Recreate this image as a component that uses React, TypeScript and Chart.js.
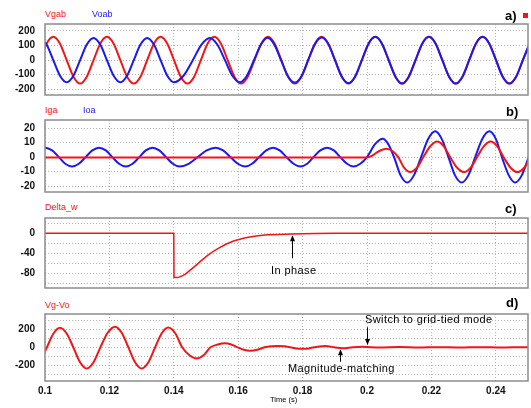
import React, { useEffect, useRef } from 'react';
import { Chart, registerables } from 'chart.js';

Chart.register(...registerables);

const FONT = '"Liberation Sans", Arial, Helvetica, sans-serif';
const RED = 'rgb(245,20,20)';
const BLUE = 'rgb(25,25,240)';
const GRID = '#b4b4b4';
const FRAME = '#8c8c8c';

// ---------- shared x axis ----------
const xTicks = [0.1, 0.12, 0.14, 0.16, 0.18, 0.2, 0.22, 0.24];
const xTickLabels = ['0.1', '0.12', '0.14', '0.16', '0.18', '0.2', '0.22', '0.24'];

// ---------- y ticks per panel ----------
const aYTicks = [-200, -100, 0, 100, 200];
const aYLabels = ['-200', '-100', '0', '100', '200'];
const bYTicks = [-20, -10, 0, 10, 20];
const bYLabels = ['-20', '-10', '0', '10', '20'];
const cYTicks = [-100, -80, -60, -40, -20, 0, 20];
const cYLabels = ['', '-80', '', '-40', '', '0', ''];
const dYTicks = [-300, -200, -100, 0, 100, 200, 300];
const dYLabels = ['', '-200', '', '0', '', '200', ''];

// ---------- panel a: Vgab (red), Voab (blue) ----------
const vgabT = [0.0984, 0.10048, 0.10257, 0.10465, 0.10673, 0.10882, 0.1109, 0.11298, 0.11507, 0.11715, 0.11923, 0.12132, 0.1234, 0.12548, 0.12757, 0.12965, 0.13173, 0.13382, 0.1359, 0.13798, 0.14007, 0.14215, 0.14423, 0.14632, 0.1484, 0.15048, 0.15257, 0.15465, 0.15673, 0.15882, 0.1609, 0.16298, 0.16507, 0.16715, 0.16923, 0.17132, 0.1734, 0.17548, 0.17757, 0.17965, 0.18173, 0.18382, 0.1859, 0.18798, 0.19007, 0.19215, 0.19423, 0.19632, 0.1984, 0.20048, 0.20257, 0.20465, 0.20673, 0.20882, 0.2109, 0.21298, 0.21507, 0.21715, 0.21923, 0.22132, 0.2234, 0.22548, 0.22757, 0.22965, 0.23173, 0.23382, 0.2359, 0.23798, 0.24007, 0.24215, 0.24423, 0.24632, 0.2484, 0.25048];
const vgabV = [0, 113, 160, 113, 0, -113, -160, -113, 0, 113, 160, 113, 0, -113, -160, -113, 0, 113, 160, 113, 0, -113, -160, -113, 0, 113, 160, 113, 0, -113, -160, -113, 0, 113, 160, 113, 0, -113, -160, -113, 0, 113, 160, 113, 0, -113, -160, -113, 0, 113, 160, 113, 0, -113, -160, -113, 0, 113, 160, 113, 0, -113, -160, -113, 0, 113, 160, 113, 0, -113, -160, -113, 0, 113];

const voabT = [0.0984, 0.10048, 0.10257, 0.10465, 0.10673, 0.10882, 0.1109, 0.11298, 0.11507, 0.11715, 0.11923, 0.12132, 0.1234, 0.12548, 0.12757, 0.12965, 0.13173, 0.13382, 0.1359, 0.13798, 0.14007,
  0.143, 0.1459, 0.1486, 0.1512, 0.1535, 0.1559, 0.1582, 0.1605, 0.1627, 0.1649, 0.1671, 0.1691, 0.1712, 0.1733, 0.1754, 0.1776,
  0.17965, 0.18173, 0.18382, 0.1859, 0.18798, 0.19007, 0.19215, 0.19423, 0.19632, 0.1984, 0.20048, 0.20257, 0.20465, 0.20673, 0.20882, 0.2109, 0.21298, 0.21507, 0.21715, 0.21923, 0.22132, 0.2234, 0.22548, 0.22757, 0.22965, 0.23173, 0.23382, 0.2359, 0.23798, 0.24007, 0.24215, 0.24423, 0.24632, 0.2484, 0.25048];
const voabV = [152, 107, 0, -107, -152, -107, 0, 107, 152, 107, 0, -107, -152, -107, 0, 107, 152, 107, 0, -107, -152,
  -107, 0, 107, 152, 107, 0, -107, -152, -107, 0, 107, 153, 108, 0, -108, -154,
  -110, 0, 110, 155, 111, 0, -112, -158, -112, 0, 113, 160, 113, 0, -113, -160, -113, 0, 113, 160, 113, 0, -113, -160, -113, 0, 113, 160, 113, 0, -113, -160, -113, 0, 113];

// ---------- panel b: Iga (red), Ioa (blue) ----------
const igaT = [0.1, 0.2, 0.2015, 0.2035, 0.206, 0.208, 0.2097, 0.2115, 0.2134, 0.2155, 0.2175, 0.2197, 0.2218, 0.2238, 0.2258, 0.228, 0.2302, 0.2322, 0.2342, 0.2363, 0.2384, 0.2404, 0.2424, 0.2446, 0.2467, 0.2488, 0.2509];
const igaV = [-0.3, -0.3, 0.8, 3.8, 5.7, 4, 0, -7.3, -10.3, -7.3, 0, 7.6, 10.8, 7.6, 0, -7.3, -10.3, -7.3, 0, 7.6, 10.8, 7.6, 0, -7.3, -10.3, -7.3, 0];

const ioaT = [0.098, 0.1001, 0.1022, 0.1043, 0.1063, 0.1084, 0.1105, 0.1126, 0.1147, 0.1168, 0.1189, 0.1209, 0.123, 0.1251, 0.1272, 0.1293, 0.1313, 0.1334, 0.1355, 0.1376, 0.1397, 0.1418, 0.1446, 0.1474, 0.1502, 0.153, 0.1553, 0.1576, 0.1599, 0.1622, 0.1643, 0.1665, 0.1687, 0.1708, 0.1729, 0.175, 0.1772, 0.1793, 0.1814, 0.1834, 0.1855, 0.1876, 0.1897, 0.1917, 0.1938, 0.1958, 0.1979, 0.2, 0.2025, 0.2049, 0.2066, 0.2084, 0.2104, 0.2125, 0.2146, 0.2168, 0.219, 0.2212, 0.2232, 0.2253, 0.2273, 0.2294, 0.2315, 0.2336, 0.2358, 0.238, 0.24, 0.2419, 0.244, 0.246, 0.2481, 0.2502, 0.2523];
const ioaV = [4.6, 6.5, 4.6, 0, -4.6, -6.5, -4.6, 0,
  4.6, 6.5, 4.6, 0, -4.6, -6.5, -4.6, 0,
  4.6, 6.5, 4.6, 0, -4.6, -6.5, -4.6, 0,
  4.6, 6.5, 4.6, 0, -4.6, -6.5, -4.6, 0,
  4.6, 6.5, 4.6, 0, -4.6, -6.5, -4.6, 0,
  4.6, 6.5, 4.6, 0, -4.6, -6.5, -4.6, 0,
  8.9, 12.6, 8.9, 0, -12.4, -17.5, -12.4, 0, 12.5, 17.7, 12.5, 0, -12.4, -17.5, -12.4, 0, 12.5, 17.7, 12.5, 0, -12.4, -17.5, -12.4, 0, 12.5];

// ---------- panel c: Delta_w ----------
const dwT = [0.1, 0.13999, 0.14006, 0.141, 0.1419, 0.14348, 0.14556, 0.14761, 0.15071, 0.15382, 0.15798, 0.16314, 0.16832, 0.17661, 0.18385, 0.19, 0.25];
const dwV = [0, 0, -88, -88.5, -87, -82, -71, -60, -43, -30, -17, -8, -3.4, -1.5, -0.4, 0, 0];

// ---------- panel d: Vg-Vo ----------
const vdT = [0.0985, 0.10058, 0.10262, 0.10466, 0.10673, 0.1088, 0.11088, 0.11295, 0.11508, 0.1172, 0.11947, 0.12174, 0.12382, 0.1259, 0.12797, 0.13003, 0.13212, 0.1342, 0.13625, 0.13829, 0.14045, 0.1426, 0.14485, 0.1471, 0.14925, 0.1514, 0.15365, 0.1559, 0.15785, 0.1598, 0.16175, 0.1637, 0.16595, 0.1682, 0.17035, 0.1725, 0.17435, 0.1762, 0.1781, 0.18, 0.18175, 0.1835, 0.18525, 0.187, 0.1884, 0.1898, 0.1925, 0.1955, 0.1985, 0.204, 0.21, 0.216, 0.222, 0.229, 0.235, 0.242, 0.248, 0.252];
const vdV = [-165, 0, 154, 218, 154, 0, -165, -234, -165, 0, 162, 229, 162, 0, -165, -234, -165, 0, 156, 220, 156, 0, -88, -124, -88, 0, 31, 44, 31, 0, -27, -38, -27, 0, 11, 15, 11, 0, -12, -17, -12, 0, 10, 14, 10, 0, -11, 0, 6, -3, 3, -3, 2, -3, 2, -2, 2, 0];

// ---------- annotation arrows (data coordinates) ----------
const cArrows = [{ t: 0.1768, from: -50, to: -4 }];
const dArrows = [
  { t: 0.2001, from: 222, to: 26 },
  { t: 0.1916, from: -160, to: -22 },
];

type Series = { t: number[]; v: number[]; color: string; width: number };
type Arrow = { t: number; from: number; to: number };

const framePlugin = {
  id: 'frame',
  afterDatasetsDraw(chart: any) {
    const { ctx, chartArea } = chart;
    ctx.save();
    ctx.strokeStyle = FRAME;
    ctx.lineWidth = 1.5;
    ctx.strokeRect(chartArea.left, chartArea.top, chartArea.right - chartArea.left, chartArea.bottom - chartArea.top);
    ctx.restore();
  },
};

const makeArrowPlugin = (arrows: Arrow[]) => ({
  id: 'arrows',
  afterDraw(chart: any) {
    const { ctx } = chart;
    const xs = chart.scales.x;
    const ys = chart.scales.y;
    ctx.save();
    ctx.strokeStyle = '#000';
    ctx.fillStyle = '#000';
    ctx.lineWidth = 1;
    arrows.forEach((a) => {
      const x = Math.round(xs.getPixelForValue(a.t)) + 0.5;
      const y1 = ys.getPixelForValue(a.from);
      const y2 = ys.getPixelForValue(a.to);
      const dir = y2 > y1 ? 1 : -1;
      ctx.beginPath();
      ctx.moveTo(x, y1);
      ctx.lineTo(x, y2 - dir * 5);
      ctx.stroke();
      ctx.beginPath();
      ctx.moveTo(x, y2);
      ctx.lineTo(x - 2.5, y2 - dir * 6);
      ctx.lineTo(x + 2.5, y2 - dir * 6);
      ctx.closePath();
      ctx.fill();
    });
    ctx.restore();
  },
});

type PanelProps = {
  top: number;
  plotHeight: number;
  xAxisHeight: number;
  yMin: number;
  yMax: number;
  yTicks: number[];
  yLabels: string[];
  series: Series[];
  showX: boolean;
  arrows?: Arrow[];
};

const PAD = 3;

function Panel(p: PanelProps) {
  const ref = useRef<HTMLCanvasElement>(null);
  const h = PAD + p.plotHeight + p.xAxisHeight;
  useEffect(() => {
    const tickFont = { family: FONT, size: 10, weight: 'bold' as const };
    const chart = new Chart(ref.current as HTMLCanvasElement, {
      type: 'line',
      data: {
        datasets: p.series.map((s) => ({
          data: s.t.map((x, i) => ({ x, y: s.v[i] })),
          borderColor: s.color,
          borderWidth: s.width,
          pointRadius: 0,
          fill: false,
          cubicInterpolationMode: 'monotone' as const,
        })),
      },
      options: {
        animation: false,
        responsive: false,
        events: [],
        layout: { autoPadding: false, padding: { top: PAD, right: 3, left: 0, bottom: 0 } },
        plugins: { legend: { display: false }, tooltip: { enabled: false } },
        scales: {
          x: {
            type: 'linear',
            min: 0.1,
            max: 0.25,
            bounds: 'data',
            afterBuildTicks: (s: any) => {
              s.ticks = xTicks.map((value) => ({ value }));
            },
            afterFit: (s: any) => {
              s.height = p.xAxisHeight;
              s.paddingLeft = 0;
              s.paddingRight = 0;
              s.paddingTop = 0;
              s.paddingBottom = 0;
            },
            grid: { color: GRID, lineWidth: 1, drawTicks: false },
            border: { display: false, dash: [1, 2] },
            ticks: {
              display: p.showX,
              autoSkip: false,
              maxRotation: 0,
              padding: 4,
              color: '#111',
              font: tickFont,
              callback: (v: any) => {
                const i = xTicks.indexOf(Number(v));
                return i < 0 ? '' : xTickLabels[i];
              },
            },
          },
          y: {
            type: 'linear',
            min: p.yMin,
            max: p.yMax,
            bounds: 'data',
            afterBuildTicks: (s: any) => {
              s.ticks = p.yTicks.map((value) => ({ value }));
            },
            afterFit: (s: any) => {
              s.width = 45;
              s.paddingLeft = 0;
              s.paddingRight = 0;
              s.paddingTop = 0;
              s.paddingBottom = 0;
            },
            grid: { color: GRID, lineWidth: 1, drawTicks: false },
            border: { display: false, dash: [1, 2] },
            ticks: {
              autoSkip: false,
              padding: 10,
              color: '#111',
              font: tickFont,
              callback: (v: any) => {
                const i = p.yTicks.indexOf(Number(v));
                return i < 0 ? '' : p.yLabels[i];
              },
            },
          },
        },
      } as any,
      plugins: [framePlugin, makeArrowPlugin(p.arrows || [])],
    });
    return () => chart.destroy();
  }, []);
  return (
    <canvas
      ref={ref}
      width={531}
      height={h}
      style={{ position: 'absolute', left: 0, top: p.top - PAD, width: 531, height: h }}
    />
  );
}

function Txt(props: { x: number; y: number; size: number; color?: string; bold?: boolean; ls?: number; children: React.ReactNode }) {
  return (
    <div
      style={{
        position: 'absolute',
        left: props.x,
        top: props.y,
        fontSize: props.size,
        lineHeight: 1,
        color: props.color || '#000',
        fontWeight: props.bold ? 'bold' : 'normal',
        letterSpacing: props.ls || 0,
        whiteSpace: 'nowrap',
        fontFamily: FONT,
      }}
    >
      {props.children}
    </div>
  );
}

export default function App() {
  return (
    <div style={{ position: 'fixed', left: 0, top: 0, width: 531, height: 408, background: '#fff', overflow: 'hidden' }}>
      <Panel
        top={24}
        plotHeight={71}
        xAxisHeight={3}
        yMin={-239}
        yMax={248}
        yTicks={aYTicks}
        yLabels={aYLabels}
        showX={false}
        series={[
          { t: voabT, v: voabV, color: BLUE, width: 2 },
          { t: vgabT, v: vgabV, color: RED, width: 2 },
        ]}
      />
      <Panel
        top={120}
        plotHeight={72}
        xAxisHeight={3}
        yMin={-24}
        yMax={25.5}
        yTicks={bYTicks}
        yLabels={bYLabels}
        showX={false}
        series={[
          { t: igaT, v: igaV, color: RED, width: 2 },
          { t: ioaT, v: ioaV, color: BLUE, width: 2 },
        ]}
      />
      <Panel
        top={218}
        plotHeight={70}
        xAxisHeight={3}
        yMin={-109.4}
        yMax={30.6}
        yTicks={cYTicks}
        yLabels={cYLabels}
        showX={false}
        series={[{ t: dwT, v: dwV, color: RED, width: 1.5 }]}
        arrows={cArrows}
      />
      <Panel
        top={314}
        plotHeight={67}
        xAxisHeight={27}
        yMin={-374}
        yMax={370}
        yTicks={dYTicks}
        yLabels={dYLabels}
        showX={true}
        series={[{ t: vdT, v: vdV, color: RED, width: 2 }]}
        arrows={dArrows}
      />

      <Txt x={45} y={9.7} size={9} color={RED}>Vgab</Txt>
      <Txt x={92} y={9.7} size={9} color={BLUE}>Voab</Txt>
      <Txt x={505} y={9} size={13} bold>a)</Txt>
      <div style={{ position: 'absolute', left: 523, top: 13, width: 5, height: 5, background: RED }} />

      <Txt x={45} y={106.3} size={9} color={RED}>Iga</Txt>
      <Txt x={83} y={106.3} size={9} color={BLUE}>Ioa</Txt>
      <Txt x={506} y={105} size={13} bold>b)</Txt>

      <Txt x={45} y={202.5} size={9} color={RED}>Delta_w</Txt>
      <Txt x={505} y={202} size={13} bold>c)</Txt>

      <Txt x={45} y={300.5} size={9} color={RED}>Vg-Vo</Txt>
      <Txt x={506} y={296.3} size={13} bold>d)</Txt>

      <Txt x={271} y={265} size={11} ls={0.4}>In phase</Txt>
      <Txt x={365} y={314.3} size={11} ls={0.4}>Switch to grid-tied mode</Txt>
      <Txt x={288} y={363.3} size={11} ls={0.4}>Magnitude-matching</Txt>
      <Txt x={270} y={396.3} size={7.5}>Time (s)</Txt>
    </div>
  );
}
